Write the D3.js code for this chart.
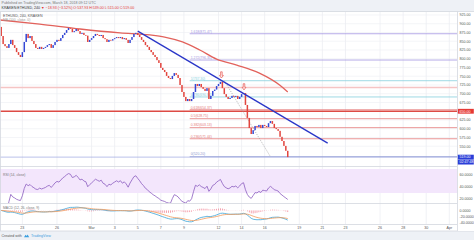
<!DOCTYPE html>
<html>
<head>
<meta charset="utf-8">
<script src="https://cdn.jsdelivr.net/npm/d3@7"></script>
<style>
  html, body { margin: 0; padding: 0; background: #fff; }
  svg { display: block; font-family: "Liberation Sans", Arial, sans-serif; }
</style>
</head>
<body>
<div id="chart"></div>
<script>
// ---- dados (ETHUSD 240, Kraken) ----
const firstCandle = "2018-02-21T04:00:00Z";
const firstOpen = 891;
const closes = [
  865, 842, 836, 831, 842, 854, 839, 831, 819, 811,
  805, 819, 848, 871, 859, 865, 851, 842, 831, 828,
  834, 828, 831, 834, 839, 842, 831, 839, 848, 854,
  851, 859, 868, 874, 882, 888, 886, 876, 879, 885,
  879, 871, 874, 868, 866, 848, 854, 859, 865, 871,
  868, 865, 868, 859, 856, 848, 854, 852, 856, 859,
  862, 859, 862, 856, 859, 854, 845, 854, 862, 871,
  874, 868, 862, 854, 848, 839, 834, 825, 819, 811,
  805, 796, 788, 774, 768, 762, 751, 745, 742, 751,
  759, 754, 745, 725, 705, 691, 679, 685, 679, 685,
  705, 728, 722, 728, 719, 714, 708, 716, 685, 694,
  708, 712, 722, 728, 734, 716, 699, 691, 685, 688,
  694, 691, 694, 685, 691, 699, 702, 668, 631, 602,
  585, 596, 608, 605, 611, 602, 611, 608, 605, 616,
  622, 614, 602, 599, 594, 577, 565, 551, 537, 519
];

// MA 100
const smaDates = ["2018-02-21T00:00Z", "2018-02-24T12:00Z", "2018-02-28T00:00Z", "2018-03-03T11:00Z",
  "2018-03-06T01:00Z", "2018-03-07T08:00Z", "2018-03-08T21:00Z", "2018-03-10T09:00Z",
  "2018-03-11T20:00Z", "2018-03-13T14:00Z", "2018-03-15T13:00Z", "2018-03-17T07:00Z", "2018-03-18T00:00Z"];
const smaValues = [911, 899, 885, 874, 868, 862, 848, 825, 799, 782, 759, 725, 705];

// eixo do tempo
const timeTicks = ["2018-02-23", "2018-02-26", "2018-03-01", "2018-03-03", "2018-03-05", "2018-03-07",
  "2018-03-09", "2018-03-12", "2018-03-14", "2018-03-16", "2018-03-19", "2018-03-21", "2018-03-23",
  "2018-03-26", "2018-03-28", "2018-03-30", "2018-04-01"];
const timeTickLabels = ["23", "26", "Mar", "3", "5", "7", "9", "12", "14", "16", "19", "21", "23", "26", "28", "30", "Apr"];

// eixo de preços
const priceTicks = [925, 900, 875, 850, 825, 800, 775, 750, 725, 700, 675, 625, 600, 575, 550];

// desenhos do autor
const fibLevels = [0, 0.236, 0.382, 0.5, 0.618, 0.786, 1, 1.272, 1.618];
const fibLow = 520.2, fibHigh = 737.3;
const fibStart = "2018-03-09T12:00Z";
const fibDiag = ["2018-03-12T12:00Z", "2018-03-16T12:00Z"];
const trendDates = ["2018-03-05T00:00Z", "2018-03-21T11:00Z"];
const trendPrices = [879, 559];
const supportPrice = 650;
const bandPrice = 718;
const arrowDates = ["2018-03-12T06:00Z", "2018-03-14T05:00Z"];
const arrowPrices = [745, 711];
const rsiTicks = [60, 40, 20];
const lastPriceLabel = "519.00";
const countdownLabel = "02:47:48";

// ---- configuração visual ----
const W = 474, H = 240, plotRight = 457;
const PANE = { price: [12, 166], rsi: [167, 203], macd: [204, 224] };
const COLORS = {
  up: "#3347d4", down: "#e2453e", grid: "#eceef3", sep: "#d3d7de",
  sma: "#e2625c", trend: "#2a36c8", support: "#dd4b45", band: "#f5c4c4",
  rsi: "#8a5cbf", rsiBand: "#f3e6fc", macd: "#3aa3d8", signal: "#f39a5b", hist: "#f28c9c",
  fib: { 0: "#8f98cf", 0.236: "#e57b7b", 0.382: "#e57b7b", 0.5: "#e57b7b", 0.618: "#e57b7b",
         0.786: "#86cfdd", 1: "#86cfdd", 1.272: "#a698e3", 1.618: "#a698e3" }
};

// ---- séries derivadas (como o TradingView calcula) ----
const H4 = 4 * 3600 * 1000;
const t0 = new Date(firstCandle).getTime();
const candles = closes.map((c, i) => ({
  t: new Date(t0 + i * H4),
  o: i === 0 ? firstOpen : closes[i - 1],
  c
}));

function rsiSeries(vals, prev, n) {
  let ag = 0, al = 0;
  return vals.map((v, i) => {
    const ch = v - (i === 0 ? prev : vals[i - 1]);
    const g = Math.max(ch, 0), l = Math.max(-ch, 0);
    if (i < n) { ag += (g - ag) / (i + 1); al += (l - al) / (i + 1); }
    else { ag = (ag * (n - 1) + g) / n; al = (al * (n - 1) + l) / n; }
    return al === 0 ? 100 : 100 - 100 / (1 + ag / al);
  });
}
function ema(vals, n) {
  const k = 2 / (n + 1);
  let e = vals[0];
  return vals.map(v => (e = v * k + e * (1 - k)));
}
const rsiVals = rsiSeries(closes, firstOpen, 14);
const e12 = ema(closes, 12), e26 = ema(closes, 26);
const macdVals = closes.map((c, i) => e12[i] - e26[i]);
const sigVals = ema(macdVals, 9);

// ---- escalas ----
const x = d3.scaleUtc()
  .domain([new Date("2018-02-21T01:30:00Z"), new Date("2018-04-01T16:00:00Z")])
  .range([0, plotRight]);
const y = d3.scaleLinear().domain([493.6, 933.6]).range([PANE.price[1], PANE.price[0]]);
const r = d3.scaleLinear().domain([30, 70]).range([193, 169]);
const mExt = d3.extent(macdVals.concat(sigVals));
const mPad = (mExt[1] - mExt[0]) * 0.08;
const m = d3.scaleLinear().domain([mExt[0] - mPad, mExt[1] + mPad]).range([PANE.macd[1] - 1, PANE.macd[0] + 2]);

// ---- svg ----
const svg = d3.select("#chart").append("svg").attr("width", W).attr("height", H);

svg.append("rect").attr("width", W).attr("height", H).attr("fill", "#fff");
svg.append("rect").attr("width", W).attr("height", 11.5).attr("fill", "#eef1f6");
svg.append("rect").attr("y", 231).attr("width", W).attr("height", 9).attr("fill", "#eef1f6");

// clips
Object.entries(PANE).forEach(([k, [a, b]]) => {
  svg.append("clipPath").attr("id", "clip-" + k)
    .append("rect").attr("x", 0).attr("y", a).attr("width", plotRight).attr("height", b - a);
});

// grade vertical
const tickDates = timeTicks.map(d => new Date(d + "T00:00:00Z"));
svg.append("g").selectAll("line").data(tickDates).join("line")
  .attr("x1", d => x(d)).attr("x2", d => x(d))
  .attr("y1", PANE.price[0]).attr("y2", PANE.macd[1])
  .attr("stroke", COLORS.grid).attr("stroke-width", 0.8);

// grade horizontal (preço)
svg.append("g").selectAll("line").data(priceTicks).join("line")
  .attr("x1", 0).attr("x2", plotRight)
  .attr("y1", d => y(d)).attr("y2", d => y(d))
  .attr("stroke", COLORS.grid).attr("stroke-width", 0.6);

// ---- painel de preço ----
const gp = svg.append("g").attr("clip-path", "url(#clip-price)");

// faixa de resistência
gp.append("line").attr("x1", 0).attr("x2", plotRight)
  .attr("y1", y(bandPrice)).attr("y2", y(bandPrice))
  .attr("stroke", COLORS.band).attr("stroke-width", 1.6);

// fibonacci
const fibX = x(new Date(fibStart));
const fibG = gp.append("g");
fibLevels.forEach(l => {
  const p = fibLow + l * (fibHigh - fibLow);
  fibG.append("line").attr("x1", fibX).attr("x2", plotRight)
    .attr("y1", y(p)).attr("y2", y(p))
    .attr("stroke", COLORS.fib[l]).attr("stroke-width", 0.8);
  fibG.append("text").attr("x", fibX + 1).attr("y", y(p) - 1.2)
    .attr("font-size", 3.4).attr("fill", COLORS.fib[l])
    .text(`${l}(${p.toFixed(2)})`);
});

// suporte rompido
gp.append("line").attr("x1", 0).attr("x2", plotRight)
  .attr("y1", y(supportPrice)).attr("y2", y(supportPrice))
  .attr("stroke", COLORS.support).attr("stroke-width", 1.6);

// linha do último preço
gp.append("line").attr("x1", 0).attr("x2", plotRight)
  .attr("y1", y(closes[closes.length - 1])).attr("y2", y(closes[closes.length - 1]))
  .attr("stroke", "#9ea6e2").attr("stroke-width", 0.7);

// diagonal do fibonacci
gp.append("line")
  .attr("x1", x(new Date(fibDiag[0]))).attr("y1", y(fibHigh))
  .attr("x2", x(new Date(fibDiag[1]))).attr("y2", y(fibLow))
  .attr("stroke", "#a0a0a0").attr("stroke-width", 0.7).attr("stroke-dasharray", "1.2,1.2");

// MA 100
gp.append("path")
  .datum(smaDates.map((d, i) => [new Date(d), smaValues[i]]))
  .attr("d", d3.line().x(d => x(d[0])).y(d => y(d[1])).curve(d3.curveMonotoneX))
  .attr("fill", "none").attr("stroke", COLORS.sma).attr("stroke-width", 1.3);

// candles
const bw = 1.5;
gp.append("g").selectAll("rect").data(candles).join("rect")
  .attr("x", d => x(d.t) - bw / 2)
  .attr("y", d => y(Math.max(d.o, d.c)))
  .attr("width", bw)
  .attr("height", d => Math.max(0.8, Math.abs(y(d.o) - y(d.c))))
  .attr("fill", d => d.c >= d.o ? COLORS.up : COLORS.down);

// linha de tendência
gp.append("line")
  .attr("x1", x(new Date(trendDates[0]))).attr("y1", y(trendPrices[0]))
  .attr("x2", x(new Date(trendDates[1]))).attr("y2", y(trendPrices[1]))
  .attr("stroke", COLORS.trend).attr("stroke-width", 1.3);

// setas
gp.append("g").selectAll("path").data(arrowDates).join("path")
  .attr("transform", (d, i) => `translate(${x(new Date(d))},${y(arrowPrices[i])})`)
  .attr("d", "M0,0 L-2,-2.6 L-0.8,-2.6 L-0.8,-6.2 L0.8,-6.2 L0.8,-2.6 L2,-2.6 Z")
  .attr("fill", "#fde8e8").attr("stroke", "#e2453e").attr("stroke-width", 0.6);

// legenda do painel
svg.append("text").attr("x", 3).attr("y", 16.5).attr("font-size", 3.6).attr("fill", "#555")
  .text("ETHUSD, 240, KRAKEN");
svg.append("text").attr("x", 3).attr("y", 21).attr("font-size", 3.4).attr("fill", "#999")
  .text("MA (100, close, 0)");

// ---- painel RSI ----
const gr = svg.append("g").attr("clip-path", "url(#clip-rsi)");
gr.append("rect").attr("x", 0).attr("width", plotRight)
  .attr("y", r(70)).attr("height", r(30) - r(70)).attr("fill", COLORS.rsiBand);
gr.append("path").datum(rsiVals)
  .attr("d", d3.line().x((d, i) => x(candles[i].t)).y(d => r(d)))
  .attr("fill", "none").attr("stroke", COLORS.rsi).attr("stroke-width", 0.8);
svg.append("text").attr("x", 3).attr("y", 175.5).attr("font-size", 3.4).attr("fill", "#777")
  .text("RSI (14, close)");

// ---- painel MACD ----
const gm = svg.append("g").attr("clip-path", "url(#clip-macd)");
gm.append("g").selectAll("rect").data(macdVals).join("rect")
  .attr("x", (d, i) => x(candles[i].t) - 0.4)
  .attr("width", 0.8)
  .attr("y", (d, i) => Math.min(m(0), m(d - sigVals[i])))
  .attr("height", (d, i) => Math.abs(m(0) - m(d - sigVals[i])))
  .attr("fill", COLORS.hist);
gm.append("path").datum(macdVals)
  .attr("d", d3.line().x((d, i) => x(candles[i].t)).y(d => m(d)))
  .attr("fill", "none").attr("stroke", COLORS.macd).attr("stroke-width", 0.8);
gm.append("path").datum(sigVals)
  .attr("d", d3.line().x((d, i) => x(candles[i].t)).y(d => m(d)))
  .attr("fill", "none").attr("stroke", COLORS.signal).attr("stroke-width", 0.8);
svg.append("text").attr("x", 3).attr("y", 208.5).attr("font-size", 3.4).attr("fill", "#777")
  .text("MACD (12, 26, close, 9)");

// separadores
[166.5, 203.5, 224.5, 231].forEach(v => {
  svg.append("line").attr("x1", 0).attr("x2", W).attr("y1", v).attr("y2", v)
    .attr("stroke", COLORS.sep).attr("stroke-width", 0.8);
});
svg.append("line").attr("x1", 0.5).attr("x2", 0.5).attr("y1", 11.5).attr("y2", 231)
  .attr("stroke", COLORS.sep).attr("stroke-width", 0.8);

// ---- eixo direito ----
svg.append("rect").attr("x", plotRight).attr("y", 11.5).attr("width", W - plotRight).attr("height", 219.5).attr("fill", "#fff");
svg.append("line").attr("x1", plotRight + 0.5).attr("x2", plotRight + 0.5).attr("y1", 11.5).attr("y2", 231)
  .attr("stroke", COLORS.sep).attr("stroke-width", 0.8);
svg.append("line").attr("x1", 0).attr("x2", W).attr("y1", 11.5).attr("y2", 11.5)
  .attr("stroke", COLORS.sep).attr("stroke-width", 0.8);

const ax = svg.append("g").attr("font-size", 3.6).attr("fill", "#555");
priceTicks.forEach(p => {
  ax.append("text").attr("x", 459.5).attr("y", y(p)).attr("dy", "0.35em").text(p.toFixed(2));
});
rsiTicks.forEach(v => {
  ax.append("text").attr("x", 459.5).attr("y", r(v)).attr("dy", "0.35em").text(v.toFixed(4));
});
m.ticks(3).forEach(v => {
  if (m(v) > PANE.macd[0] + 2 && m(v) < PANE.macd[1] - 1)
    ax.append("text").attr("x", 459.5).attr("y", m(v)).attr("dy", "0.35em").text(v.toFixed(4));
});

function priceTag(yy, label, fill) {
  svg.append("rect").attr("x", plotRight + 0.8).attr("y", yy - 2.4).attr("width", 16).attr("height", 4.8)
    .attr("fill", fill);
  svg.append("text").attr("x", 459.5).attr("y", yy).attr("dy", "0.35em")
    .attr("font-size", 3.6).attr("fill", "#fff").text(label);
}
priceTag(y(supportPrice), supportPrice.toFixed(2), "#e53935");
priceTag(y(closes[closes.length - 1]), lastPriceLabel, "#2b3ed8");
priceTag(y(closes[closes.length - 1]) + 5, countdownLabel, "#2b3ed8");

// ---- eixo do tempo ----
svg.append("g").selectAll("text").data(tickDates).join("text")
  .attr("x", d => x(d)).attr("y", 229.3)
  .attr("text-anchor", "middle").attr("font-size", 3.6).attr("fill", "#555")
  .text((d, i) => timeTickLabels[i]);

// ---- cabeçalho ----
svg.append("text").attr("x", 1.5).attr("y", 4.3).attr("font-size", 3.6).attr("fill", "#777")
  .text("Published on TradingView.com, March 18, 2018 09:12 UTC");
const hdr = svg.append("text").attr("x", 1.5).attr("y", 9.4).attr("font-size", 3.6);
hdr.append("tspan").attr("fill", "#333").text("KRAKEN:ETHUSD, 240 ");
hdr.append("tspan").attr("fill", "#e53935").text("▼ −18.93 (−3.52%) O:537.93 H:539.00 L:515.00 C:519.00");

// ---- rodapé ----
svg.append("text").attr("x", 1.5).attr("y", 237).attr("font-size", 3.6).attr("fill", "#555")
  .text("Created with");
svg.append("path").attr("transform", "translate(24,235.8)")
  .attr("d", "M0,1.5 L1.6,-1 L2.6,0.3 L3.6,-1.4 L5.2,1.5 Z").attr("fill", "#3ba0e0");
svg.append("text").attr("x", 31).attr("y", 237).attr("font-size", 3.6).attr("fill", "#3ba0e0")
  .text("TradingView");
</script>
</body>
</html>
